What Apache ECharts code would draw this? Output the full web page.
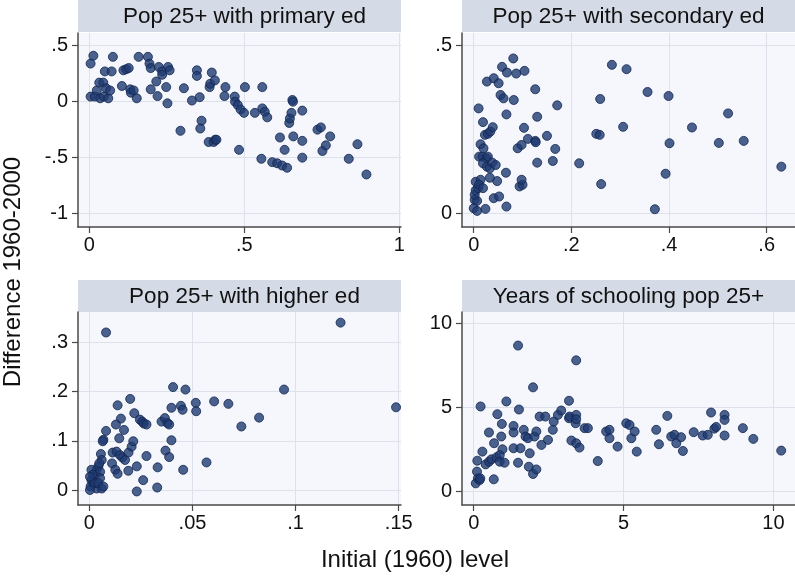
<!DOCTYPE html>
<html>
<head>
<meta charset="utf-8">
<script src="https://cdn.jsdelivr.net/npm/echarts@6/dist/echarts.min.js"></script>
<style>
  html, body { margin: 0; padding: 0; background: #fff; }
  #chart { width: 795px; height: 577px; }
</style>
</head>
<body>
<div id="chart"></div>
<script>
// panel titles
const panelTitles = ['Pop 25+ with primary ed', 'Pop 25+ with secondary ed', 'Pop 25+ with higher ed', 'Years of schooling pop 25+'];

// Pop 25+ with primary ed
const primaryX = [0.004,0.013,0.004,0.018,0.024,0.032,0.035,0.045,0.047,0.05,0.054,0.061,0.067,0.072,0.076,0.105,0.11,0.119,0.127,0.132,0.134,0.143,0.153,0.159,0.189,0.194,0.198,0.198,0.216,0.22,0.224,0.235,0.235,0.248,0.254,0.252,0.259,0.294,0.305,0.331,0.347,0.347,0.356,0.362,0.358,0.385,0.388,0.39,0.395,0.401,0.405,0.406,0.41,0.439,0.436,0.469,0.47,0.479,0.483,0.488,0.499,0.502,0.534,0.555,0.558,0.558,0.566,0.574,0.59,0.606,0.615,0.622,0.63,0.638,0.645,0.647,0.652,0.655,0.657,0.658,0.687,0.687,0.687,0.736,0.747,0.752,0.763,0.777,0.837,0.865,0.894];
const primaryY = [0.34,0.41,0.045,0.045,0.10,0.17,0.03,0.17,0.045,0.27,0.12,0.03,0.10,0.27,0.40,0.14,0.28,0.29,0.30,0.11,0.08,0.10,0.03,0.40,0.40,0.34,0.30,0.11,0.18,0.05,0.31,0.27,0.24,0.13,0.31,-0.015,0.28,-0.26,0.12,0.01,0.28,0.23,0.04,-0.17,-0.24,-0.36,0.13,0.16,0.26,-0.36,0.19,-0.34,-0.34,0.13,0.05,0.045,0.0,-0.03,-0.43,-0.07,-0.10,0.13,-0.10,-0.51,0.13,-0.06,-0.09,-0.14,-0.54,-0.55,-0.32,-0.57,-0.43,-0.59,-0.19,-0.15,-0.10,0.015,0.0,-0.31,-0.08,-0.35,-0.50,-0.25,-0.23,-0.44,-0.39,-0.31,-0.51,-0.38,-0.65];

// Pop 25+ with secondary ed
const secondaryX = [0,0.007,0.024,0.067,0.002,0.007,0.002,0.004,0.009,0.004,0.014,0.011,0.019,0.041,0.052,0.048,0.033,0.066,0.094,0.10,0.098,0.011,0.018,0.026,0.029,0.019,0.027,0.033,0.038,0.045,0.014,0.020,0.023,0.029,0.034,0.039,0.019,0.010,0.027,0.041,0.051,0.055,0.061,0.067,0.082,0.058,0.068,0.081,0.087,0.104,0.126,0.103,0.090,0.098,0.111,0.126,0.127,0.130,0.171,0.130,0.150,0.167,0.162,0.216,0.251,0.258,0.259,0.261,0.283,0.306,0.313,0.356,0.371,0.393,0.399,0.401,0.447,0.502,0.521,0.553,0.630];
const secondaryY = [0.015,0.007,0.013,0.02,0.04,0.037,0.055,0.068,0.075,0.094,0.10,0.085,0.075,0.045,0.05,0.096,0.106,0.121,0.08,0.085,0.10,0.169,0.169,0.164,0.169,0.149,0.139,0.134,0.151,0.144,0.206,0.194,0.234,0.237,0.244,0.257,0.272,0.313,0.393,0.403,0.388,0.353,0.343,0.295,0.338,0.437,0.420,0.462,0.417,0.425,0.370,0.255,0.194,0.204,0.222,0.216,0.212,0.288,0.322,0.151,0.231,0.192,0.156,0.149,0.237,0.234,0.341,0.087,0.443,0.258,0.430,0.362,0.012,0.118,0.350,0.209,0.256,0.210,0.298,0.216,0.139];

// Pop 25+ with higher ed
const higherX = [0.0081,0.1218,0.1487,0.0944,0.0406,0.0466,0.0605,0.0674,0.0737,0.0823,0.0516,0.0518,0.0444,0.0452,0.0398,0.0198,0.0137,0.0218,0.0153,0.0145,0.0129,0.0168,0.0081,0.0068,0.0065,0.0056,0.006,0.0113,0.011,0.0132,0.0126,0.0137,0.0148,0.016,0.0173,0.019,0.0205,0.0213,0.0189,0.023,0.023,0.0261,0.0277,0.0245,0.0256,0.0264,0.0277,0.0331,0.0329,0.035,0.0366,0.0379,0.0387,0.0369,0.0387,0.0398,0.0455,0.0568,0.001,0.0006,0.0019,0.0027,0.0035,0.001,0.0044,0.0052,0.0052,0.0035,0.006,0.0027,0.0016,0.0044,0.0068,0.0048,0.0003,0.0003];
const higherY = [0.320,0.340,0.168,0.204,0.209,0.204,0.180,0.175,0.129,0.147,0.177,0.160,0.171,0.163,0.167,0.185,0.172,0.156,0.145,0.105,0.133,0.122,0.120,0.102,0.099,0.073,0.061,0.076,0.054,0.078,0.041,0.033,0.071,0.066,0.061,0.076,0.088,0.099,0.039,0.048,-0.003,0.020,0.069,0.143,0.139,0.135,0.133,0.046,0.005,0.139,0.146,0.136,0.133,0.080,0.067,0.101,0.041,0.056,0.020,0.007,0.014,0.031,0.041,0.041,0.048,0.037,0.024,0.003,0.003,0.014,0.031,0.014,0.007,0.054,0.0,0.027];

// Years of schooling pop 25+
const yearsX = [0.07,0.14,0.2,0.11,0.22,0.12,0.23,0.29,0.4,0.51,0.51,0.59,0.68,0.67,0.76,0.79,0.87,0.92,0.94,0.96,0.87,1.03,1.09,1.33,1.33,1.33,1.48,1.51,1.48,1.56,1.67,1.73,1.81,1.87,1.84,1.98,1.98,2.03,2.09,2.09,2.26,2.2,2.39,2.48,2.64,2.67,2.81,2.92,3.18,3.18,3.2,3.26,3.42,3.42,3.4,3.42,3.42,3.53,3.7,3.81,4.14,4.42,4.53,4.53,4.8,5.09,5.2,5.26,5.37,5.44,6.09,6.18,6.46,6.59,6.7,6.76,6.92,6.98,7.34,7.64,7.81,7.92,8.03,8.09,8.37,8.37,8.37,8.98,9.33,10.26];
const yearsY = [0.46,0.76,0.66,1.16,0.76,1.81,5.04,2.35,1.59,1.75,3.49,1.89,2.85,0.70,2.01,4.58,2.15,3.25,4.0,2.49,1.75,1.69,5.34,3.88,3.49,2.55,8.67,4.86,1.69,2.55,3.65,3.25,3.15,2.25,1.45,6.18,1.02,3.25,3.55,1.29,2.75,4.44,4.44,3.05,3.65,4.14,4.54,4.80,5.38,4.34,4.44,3.01,7.79,4.54,4.04,4.28,2.85,2.59,3.75,3.75,1.79,3.55,3.65,3.15,2.65,4.04,3.94,3.15,3.55,2.35,3.65,2.79,4.48,3.25,3.35,2.85,3.21,2.39,3.51,3.31,3.35,4.68,3.72,3.82,4.54,4.24,3.31,3.75,3.11,2.41];

// axis ticks per panel
const xTicks = [[0, 0.5, 1], [0, 0.2, 0.4, 0.6], [0, 0.05, 0.1, 0.15], [0, 5, 10]];
const yTicks = [[-1, -0.5, 0, 0.5], [0, 0.5], [0, 0.1, 0.2, 0.3], [0, 5, 10]];
const xRange = [[-0.0366, 1.0055], [-0.024, 0.658], [-0.0055, 0.1511], [-0.39, 10.72]];
const yRange = [[-1.119, 0.613], [-0.041, 0.538], [-0.0305, 0.3616], [-0.83, 10.67]];

const allX = [primaryX, secondaryX, higherX, yearsX];
const allY = [primaryY, secondaryY, higherY, yearsY];

const boxes = [
  {left: 78, top: 33, width: 323, height: 194},
  {left: 462, top: 33, width: 333, height: 194},
  {left: 78, top: 312, width: 323, height: 193},
  {left: 462, top: 312, width: 333, height: 193}
];
const stripTop = [0, 0, 280, 280];
const titleShift = [5, 0, 5, 0];

const fmt = v => {
  const s = String(+v.toFixed(4));
  return s.replace(/^(-?)0\./, '$1.');
};

const chart = echarts.init(document.getElementById('chart'));
const grids = [], xAxes = [], yAxes = [], series = [], graphics = [];
boxes.forEach((b, i) => {
  grids.push({
    left: b.left, top: b.top, width: b.width, height: b.height,
    show: true, backgroundColor: '#f5f7fc', borderWidth: 0
  });
  xAxes.push({
    type: 'value', gridIndex: i, min: xRange[i][0], max: xRange[i][1],
    axisLine: {show: true, onZero: false, lineStyle: {color: '#4a4a4a', width: 1.5}},
    axisTick: {show: true, length: 6, customValues: xTicks[i], lineStyle: {color: '#4a4a4a', width: 1.2}},
    axisLabel: {customValues: xTicks[i], formatter: fmt, color: '#111', fontSize: 20, margin: 8, fontFamily: 'Liberation Sans, Arial, sans-serif', showMinLabel: true, showMaxLabel: true},
    splitLine: {show: true, lineStyle: {color: '#dce1ec', width: 1}}
  });
  yAxes.push({
    type: 'value', gridIndex: i, min: yRange[i][0], max: yRange[i][1],
    axisLine: {show: true, onZero: false, lineStyle: {color: '#4a4a4a', width: 1.5}},
    axisTick: {show: true, length: 6, customValues: yTicks[i], lineStyle: {color: '#4a4a4a', width: 1.2}},
    axisLabel: {customValues: yTicks[i], formatter: fmt, color: '#111', fontSize: 20, margin: 10, fontFamily: 'Liberation Sans, Arial, sans-serif'},
    splitLine: {show: true, lineStyle: {color: '#dce1ec', width: 1}}
  });
  series.push({
    type: 'scatter', xAxisIndex: i, yAxisIndex: i,
    data: allX[i].map((x, k) => [x, allY[i][k]]),
    symbol: 'circle', symbolSize: 9,
    itemStyle: {color: '#1f3b72', borderColor: '#122650', borderWidth: 1},
    emphasis: {disabled: true}
  });
  graphics.push({
    type: 'group', left: b.left, top: stripTop[i],
    children: [
      {type: 'rect', shape: {x: 0, y: 0, width: b.width, height: 32}, style: {fill: '#d5dae7'}},
      {type: 'text', x: b.width / 2 + titleShift[i], y: 17, style: {text: panelTitles[i], fill: '#111', font: '22.5px "Liberation Sans", Arial, sans-serif', textAlign: 'center', textVerticalAlign: 'middle'}}
    ]
  });
});

graphics.push({
  type: 'text', rotation: Math.PI / 2,
  x: 13, y: 272,
  style: {text: 'Difference 1960-2000', fill: '#111', font: '24px "Liberation Sans", Arial, sans-serif', textAlign: 'center', textVerticalAlign: 'middle'}
});
graphics.push({
  type: 'text', x: 415, y: 560,
  style: {text: 'Initial (1960) level', fill: '#111', font: '24px "Liberation Sans", Arial, sans-serif', textAlign: 'center', textVerticalAlign: 'middle'}
});

chart.setOption({
  animation: false,
  backgroundColor: '#ffffff',
  grid: grids,
  xAxis: xAxes,
  yAxis: yAxes,
  series: series,
  graphic: graphics
});
</script>
</body>
</html>
